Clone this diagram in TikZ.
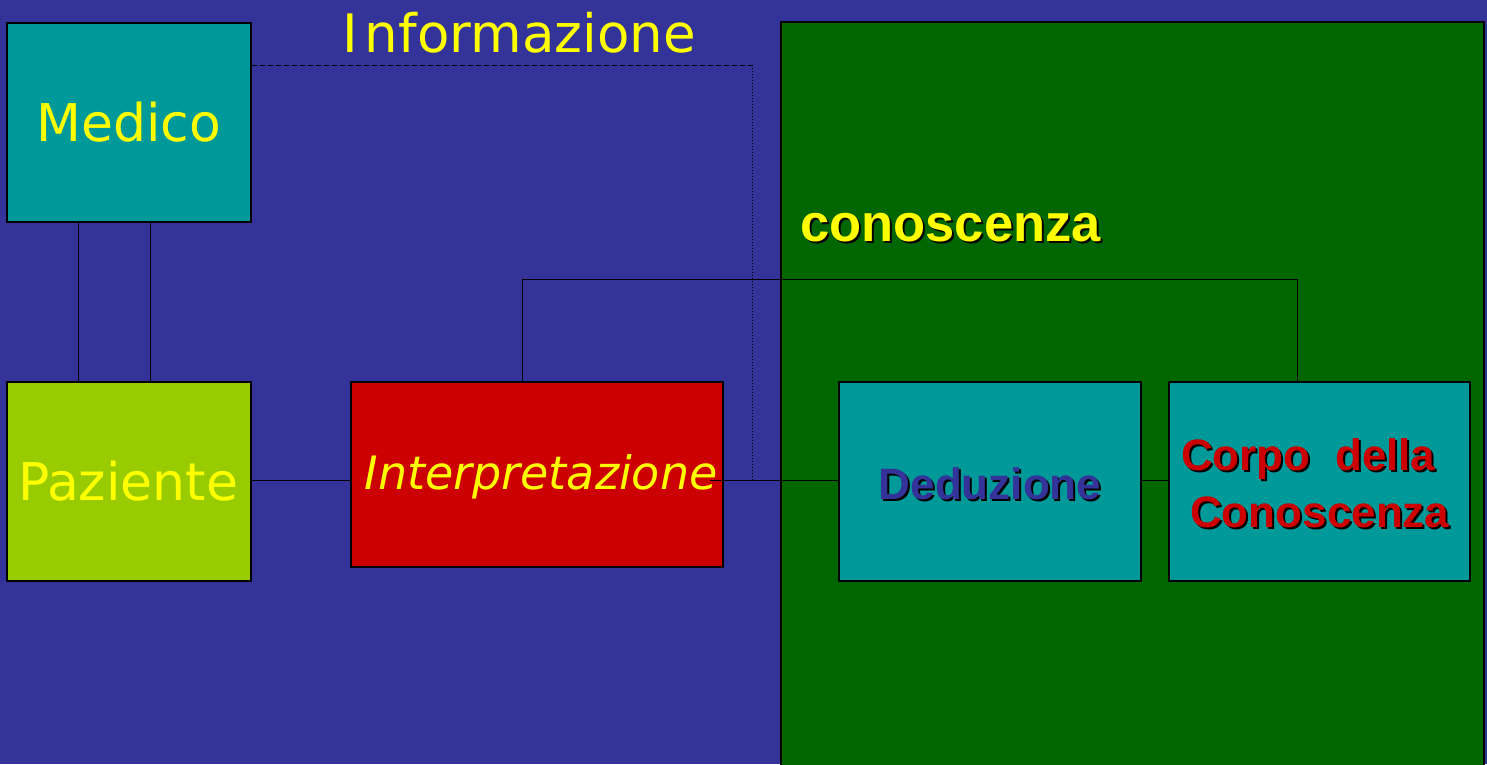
\documentclass[tikz,border=0pt]{standalone}
\usepackage{fontspec}
\setmainfont{DejaVu Sans}
\newfontfamily\arialb{Liberation Sans}
\definecolor{bgblue}{RGB}{51,51,153}
\definecolor{pgreen}{RGB}{0,102,0}
\definecolor{bteal}{RGB}{0,153,153}
\definecolor{lime}{RGB}{153,204,0}
\definecolor{bred}{RGB}{204,0,0}
\definecolor{tyellow}{RGB}{255,255,0}
\tikzset{
  box/.style={draw=black, line width=1.5pt, inner sep=0pt, anchor=north west},
  conn/.style={draw=black, line width=1pt},
  plain/.style={font=\fontsize{52}{60}\selectfont, text=tyellow, inner sep=0pt},
  bold/.style={font=\arialb\bfseries\fontsize{44}{52}\selectfont, inner sep=0pt}
}
\begin{document}
\begin{tikzpicture}[x=1pt,y=-1pt]
\useasboundingbox (0,0) rectangle (1487,764);
\fill[bgblue] (0,0) rectangle (1487,764);
\draw[fill=pgreen, line width=1.5pt] (781,22) rectangle (1484,790);
% boxes
\node[box, fill=bteal, minimum width=244pt, minimum height=199pt] (medico) at (6,22) {};
\node[box, fill=lime, minimum width=244pt, minimum height=199pt] (paziente) at (6,381) {};
\node[box, fill=bred, minimum width=372pt, minimum height=185pt] (interp) at (350,381) {};
\node[box, fill=bteal, minimum width=302pt, minimum height=199pt] (dedu) at (838,381) {};
\node[box, fill=bteal, minimum width=301pt, minimum height=199pt] (corpo) at (1168,381) {};
\coordinate (dashend) at (752,65);
\coordinate (dotend) at (752,480);
\coordinate (ileft) at (710,480);
% connectors
\draw[conn] ([xshift=72pt]medico.south west) -- ([xshift=72pt]paziente.north west);
\draw[conn] ([xshift=144pt]medico.south west) -- ([xshift=144pt]paziente.north west);
\draw[conn] ([yshift=0.5pt]paziente.east) -- ([yshift=0.5pt]paziente.east -| interp.west);
\draw[conn] (ileft) -- (ileft -| dedu.west);
\draw[conn] (dedu.east |- ileft) -- (corpo.west |- ileft);
\draw[conn] ([xshift=-14pt]interp.north) -- ++(0,-102) -| ([xshift=-21.5pt]corpo.north);
\draw[conn, line width=0.8pt, dash pattern=on 5pt off 3pt] ([yshift=-43pt]medico.north east) -- (dashend);
\draw[conn, line width=0.8pt, dash pattern=on 1pt off 2pt] (dashend) -- (dotend);
% texts
\node[plain, anchor=base, font=\fontsize{53}{60}\selectfont] (info) at (519,52) {I\hspace{7pt}nformazione};
\node[plain, anchor=base] (medicot) at (129,141) {Medico};
\node[plain, anchor=base] (pazt) at (128,500) {Paziente};
\node[plain, anchor=base, font=\itshape\fontsize{46}{52}\selectfont] (interpt) at (541,489) {Interpretazione};
\node[bold, anchor=base west, text=black, font=\arialb\bfseries\fontsize{52.5}{60}\selectfont] (conss) at (802,243) {conoscenza};
\node[bold, anchor=base west, text=tyellow, font=\arialb\bfseries\fontsize{52.5}{60}\selectfont] (cons) at (800,241) {conoscenza};
\node[bold, anchor=base, text=black] (dedus) at (992,501) {Deduzione};
\node[bold, anchor=base, text=bgblue] (dedut) at (990,499) {Deduzione};
\node[bold, anchor=base west, text=black] (corpo1s) at (1183,472) {Corpo\ \ della};
\node[bold, anchor=base west, text=bred] (corpo1) at (1181,470) {Corpo\ \ della};
\node[bold, anchor=base west, text=black] (corpo2s) at (1192,529) {Conoscenza};
\node[bold, anchor=base west, text=bred] (corpo2) at (1190,527) {Conoscenza};
\end{tikzpicture}
\end{document}
